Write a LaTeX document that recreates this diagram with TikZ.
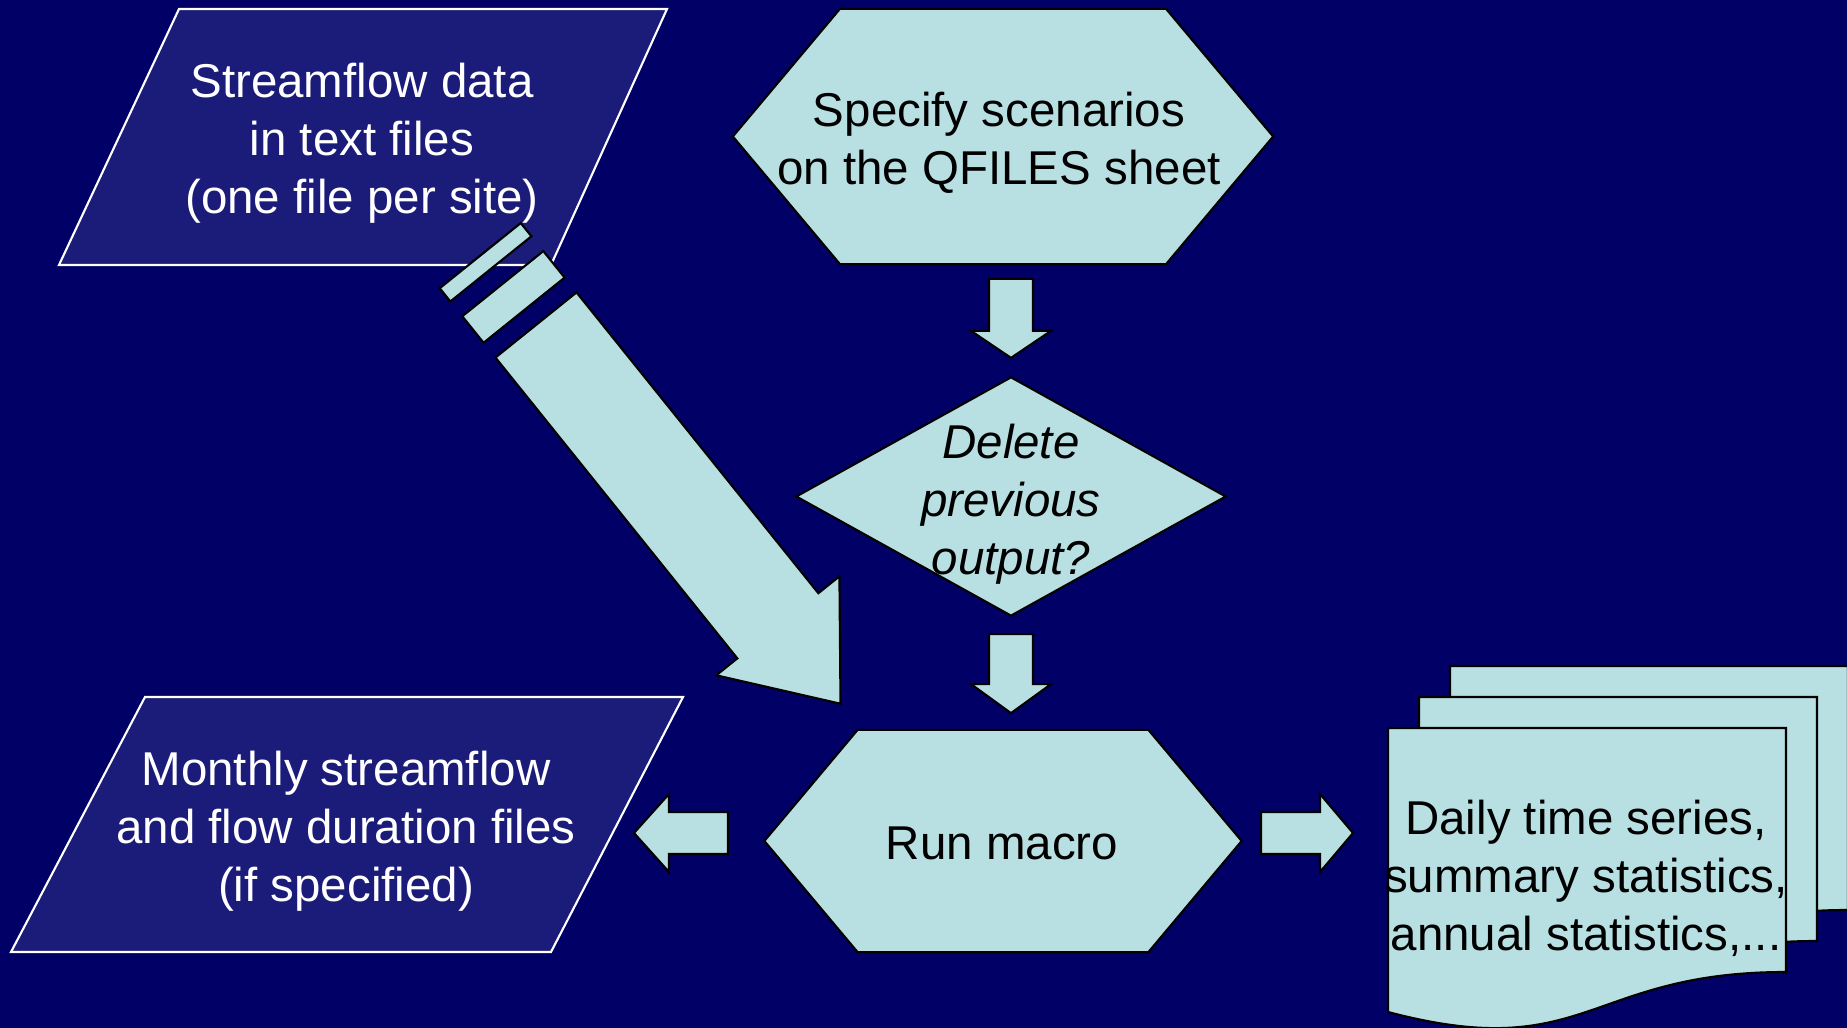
\documentclass[tikz,border=0pt]{standalone}
\usepackage{fontspec}
\setmainfont{Liberation Sans}
\usetikzlibrary{shapes,positioning,calc}

\definecolor{bgblue}{HTML}{000066}
\definecolor{inblue}{HTML}{1B1B7A}
\definecolor{pale}{HTML}{B8E0E3}

\begin{document}
\begin{tikzpicture}[
    x=0.01cm, y=-0.01cm,
    iobox/.style={draw=white, line width=0.6pt, fill=inblue},
    procbox/.style={signal, signal to=east and west, signal pointer angle=100, draw=black, line width=0.6pt, fill=pale, inner sep=2pt},
    decbox/.style={diamond, draw=black, line width=0.6pt, fill=pale, inner sep=2pt},
    docpage/.style={draw=black, line width=0.6pt, fill=pale},
    barrow/.style={draw=black, line width=0.6pt, fill=pale},
    wtext/.style={align=center, text=white, inner sep=0pt, font=\fontsize{13.5}{16.5}\selectfont},
    btext/.style={align=center, text=black, inner sep=0pt, font=\fontsize{13.5}{16.5}\selectfont}
]

\fill[bgblue] (0,0) rectangle (1847,1028);
\useasboundingbox (0,0) rectangle (1847,1028);

% Output documents
\draw[docpage] (1450,666) -- (1848,666) -- (1848,910) .. controls (1649,910) and (1649,1002.5) .. (1450,950) -- cycle;
\draw[docpage] (1419,697) -- (1817,697) -- (1817,941) .. controls (1618,941) and (1618,1033.5) .. (1419,981) -- cycle;
\draw[docpage] (1388,728) -- (1786,728) -- (1786,972) .. controls (1587,972) and (1587,1064.5) .. (1388,1012) -- cycle;
\node[btext] (docs) at (1586,878) {Daily time series,\\summary statistics,\\annual statistics,...};

% Input and output files
\draw[iobox] (179,9) -- (667,9) -- (551,265) -- (59,265) -- cycle;
\node[wtext] (data) at (362,143) {Streamflow data\\in text files\\(one file per site)};

\draw[iobox] (145,697) -- (683,697) -- (551,952) -- (11,952) -- cycle;
\node[wtext] (month) at (346,831) {Monthly streamflow\\and flow duration files\\(if specified)};

% Steps
\node[procbox, minimum width=5.4cm, minimum height=2.55cm] (spec) at (1003,136.5) {};
\node[btext] (specT) at (999,143) {Specify scenarios\\on the QFILES sheet};

\node[decbox, minimum width=4.3cm, minimum height=2.39cm] (dec) at (1011,496.5) {};
\node[btext, font=\fontsize{13.5}{16.5}\selectfont\itshape] (decT) at (1011,504) {Delete\\previous\\output?};

\node[procbox, minimum width=4.77cm, minimum height=2.22cm] (run) at (1003,841) {};
\node[btext] (runT) at (1002,843) {Run macro};

% Block arrows
\draw[barrow] ($(dec.north)+(0,-18)$) -- ++(40,-27) -- ++(-18,0) -- ++(0,-52) -- ++(-44,0)
    -- ++(0,52) -- ++(-18,0) -- cycle;
\draw[barrow] ($(dec.south)+(-22,17)$) -- ++(44,0) -- ++(0,50) -- ++(18,0) -- ++(-40,29)
    -- ++(-40,-29) -- ++(18,0) -- cycle;
\draw[barrow] ($(run.west)+(-35,-29)$) -- ++(-59,0) -- ++(0,-18) -- ++(-35,39) -- ++(35,39)
    -- ++(0,-18) -- ++(59,0) -- cycle;
\draw[barrow] ($(run.east)+(18,-29)$) -- ++(59,0) -- ++(0,-18) -- ++(33,39) -- ++(-33,39)
    -- ++(0,-18) -- ++(-59,0) -- cycle;

% Striped arrow from the input files
\coordinate (tail) at (536,325);
\begin{scope}[shift={(tail)}, rotate=-51.2]
    \draw[barrow] (0,-52) -- (386,-52) -- (386,-79) -- (486,0) -- (386,79) -- (386,52) -- (0,52) -- cycle;
    \draw[barrow] (-53,-52) -- (-19,-52) -- (-19,52) -- (-53,52) -- cycle;
    \draw[barrow] (-89,-52) -- (-72,-52) -- (-72,52) -- (-89,52) -- cycle;
\end{scope}

\end{tikzpicture}
\end{document}
